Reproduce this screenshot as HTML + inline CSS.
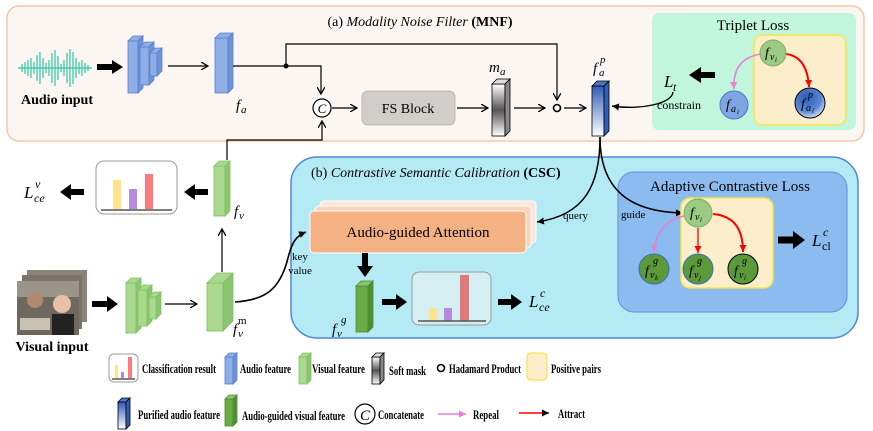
<!DOCTYPE html>
<html><head><meta charset="utf-8"><style>
html,body{margin:0;padding:0;background:#fff;}
svg{display:block;font-family:"Liberation Serif",serif;}
.it{font-style:italic;}
.b{font-weight:bold;}
</style></head><body>
<svg width="873" height="431" viewBox="0 0 873 431" xmlns="http://www.w3.org/2000/svg">
<defs>
<marker id="ah" markerWidth="8" markerHeight="8" refX="7" refY="4" orient="auto" markerUnits="userSpaceOnUse"><path d="M0,0 L7,4 L0,8" fill="none" stroke="#000" stroke-width="1.3"/></marker>
<marker id="ahf" markerWidth="8" markerHeight="8" refX="7" refY="4" orient="auto" markerUnits="userSpaceOnUse"><path d="M0,0.5 L7,4 L0,7.5 Z" fill="#000"/></marker>
<marker id="ahr" markerWidth="8" markerHeight="8" refX="7" refY="4" orient="auto" markerUnits="userSpaceOnUse"><path d="M0,0.5 L7,4 L0,7.5 Z" fill="#f00"/></marker>
<marker id="ahp" markerWidth="8" markerHeight="8" refX="7" refY="4" orient="auto" markerUnits="userSpaceOnUse"><path d="M0,0.5 L7,4 L0,7.5 Z" fill="#e67fd6"/></marker>
<linearGradient id="gm" x1="0" y1="0" x2="0" y2="1"><stop offset="0" stop-color="#fff"/><stop offset="0.5" stop-color="#555"/><stop offset="1" stop-color="#fff"/></linearGradient>
<linearGradient id="gp" x1="0" y1="0" x2="0" y2="1"><stop offset="0" stop-color="#2f5db8"/><stop offset="1" stop-color="#fff"/></linearGradient>
<radialGradient id="gc" cx="0.4" cy="0.3" r="0.8"><stop offset="0" stop-color="#2f5db8"/><stop offset="0.6" stop-color="#5a86d4"/><stop offset="1" stop-color="#fff"/></radialGradient>
</defs>

<rect x="7" y="6" width="857" height="135" rx="12" fill="#fcf6f2" stroke="#f7c6a8" stroke-width="1.5"/>
<text x="420" y="26" font-size="14" text-anchor="middle">(a) <tspan class="it">Modality Noise Filter</tspan> <tspan class="b">(MNF)</tspan></text>

<g stroke="#2fc7a6" stroke-width="1.2">
<path d="M18,68 H92"/>
<path d="M22,64 V72 M25,62 V74 M28,60 V76 M31,58 V78 M34,62 V74 M37,55 V81 M40,52 V84 M43,58 V78 M46,63 V73 M49,60 V76 M52,53 V83 M55,50 V86 M58,56 V80 M61,64 V72 M64,60 V76 M67,53 V83 M70,49 V87 M73,52 V84 M76,58 V78 M79,62 V74 M82,60 V76 M85,63 V73 M88,65 V71"/>
</g>
<text x="57" y="104" font-size="14" class="b" text-anchor="middle">Audio input</text>
<path d="M97,67 H113" stroke="#000" stroke-width="6"/><path d="M112,60 L123,67 L112,74Z"/>

<g stroke="#5b7fcf" stroke-width="0.8" fill="#8eaee6">
<rect x="128" y="41" width="10" height="52"/><polygon points="128,41 133,36 143,36 138,41"/><polygon points="138,41 143,36 143,88 138,93" fill="#6f93d8"/>
<rect x="140" y="47" width="9" height="38"/><polygon points="140,47 145,42 154,42 149,47"/><polygon points="149,47 154,42 154,80 149,85" fill="#6f93d8"/>
<rect x="150" y="53" width="7" height="23"/><polygon points="150,53 155,48 162,48 157,53"/><polygon points="157,53 162,48 162,71 157,76" fill="#6f93d8"/>
</g>
<path d="M168,66 H208" stroke="#000" stroke-width="1.2" marker-end="url(#ah)"/>
<g stroke="#5b7fcf" stroke-width="0.8" fill="#8eaee6">
<rect x="215" y="38" width="13" height="55"/><polygon points="215,38 220,33 233,33 228,38"/><polygon points="228,38 233,33 233,88 228,93" fill="#6f93d8"/>
</g>
<text x="236" y="110" font-size="15" class="it">f</text><text x="241" y="113" font-size="11" class="it">a</text>

<path d="M233,66 H321 V94" fill="none" stroke="#000" stroke-width="1.2" marker-end="url(#ah)"/>
<circle cx="286" cy="66" r="2.5"/>
<path d="M286,66 V44 H557 V100" fill="none" stroke="#000" stroke-width="1.2" marker-end="url(#ah)"/>
<path d="M227,160 V140 H322 V121" fill="none" stroke="#000" stroke-width="1.2" marker-end="url(#ah)"/>
<circle cx="322" cy="108" r="9" fill="#fff" stroke="#000" stroke-width="1.2"/>
<text x="322" y="113" font-size="13" class="it" text-anchor="middle">C</text>
<path d="M332,108 H357" stroke="#000" stroke-width="1.2" marker-end="url(#ah)"/>
<rect x="362" y="91" width="93" height="34" rx="6" fill="#d0cdca" stroke="#b9b6b3"/>
<text x="408" y="113" font-size="14" text-anchor="middle">FS Block</text>
<path d="M457,108 H488" stroke="#000" stroke-width="1.2" marker-end="url(#ah)"/>
<g stroke="#000" stroke-width="0.8">
<rect x="492" y="84" width="13" height="52" fill="url(#gm)"/><polygon points="492,84 497,79 510,79 505,84" fill="#ddd"/><polygon points="505,84 510,79 510,131 505,136" fill="#888"/>
</g>
<text x="489" y="72" font-size="15" class="it">m</text><text x="500" y="75" font-size="11" class="it">a</text>
<path d="M514,108 H545" stroke="#000" stroke-width="1.2" marker-end="url(#ah)"/>
<circle cx="557" cy="108" r="3.5" fill="none" stroke="#000" stroke-width="1.6"/>
<path d="M564,108 H586" stroke="#000" stroke-width="1.2" marker-end="url(#ah)"/>
<g stroke="#000" stroke-width="0.8">
<rect x="592" y="86" width="12" height="50" fill="url(#gp)"/><polygon points="592,86 597,81 609,81 604,86" fill="#4a74c8"/><polygon points="604,86 609,81 609,131 604,136" fill="#2f5db8"/>
</g>
<text x="593" y="73" font-size="15" class="it">f</text><text x="599" y="76" font-size="11" class="it">a</text><text x="600" y="63" font-size="11" class="it">p</text>

<rect x="652" y="13" width="204" height="117" rx="7" fill="#c1f6dd"/>
<text x="753" y="30" font-size="15" text-anchor="middle">Triplet Loss</text>
<rect x="754" y="35" width="92" height="90" rx="9" fill="#fdeecb" stroke="#f2e64a" stroke-width="1.5"/>
<path d="M715,75 H700" stroke="#000" stroke-width="6"/><path d="M701,67 L689,75 L701,83Z"/>
<text x="664" y="87" font-size="17" class="it">L</text><text x="673" y="91" font-size="12" class="it">t</text>
<text x="657" y="109" font-size="12">constrain</text>
<path d="M673,92 C672,104 640,110 612,106" fill="none" stroke="#000" stroke-width="1.4" marker-end="url(#ahf)"/>
<path d="M760,54 C740,58 733,70 734,89" fill="none" stroke="#e67fd6" stroke-width="1.6" marker-end="url(#ahp)"/>
<path d="M786,54 C802,56 808,70 809,87" fill="none" stroke="#f00" stroke-width="2" marker-end="url(#ahr)"/>
<circle cx="773" cy="53" r="13" fill="#9ccb83" stroke="#7dae66"/>
<text x="765" y="57" font-size="14" class="it">f</text><text x="770" y="60" font-size="10" class="it">v</text><text x="775" y="62" font-size="7" class="it">i</text>
<circle cx="734" cy="105" r="14" fill="#7fa6e2" stroke="#4d77c5"/>
<text x="726" y="109" font-size="14" class="it">f</text><text x="731" y="112" font-size="10" class="it">a</text><text x="737" y="114" font-size="7" class="it">i</text>
<circle cx="810" cy="103" r="15" fill="url(#gc)" stroke="#000"/>
<text x="801" y="108" font-size="14" class="it">f</text><text x="806" y="111" font-size="10" class="it">a</text><text x="812" y="113" font-size="7" class="it">i</text><text x="808" y="98" font-size="10" class="it">p</text>

<rect x="291" y="157" width="567" height="181" rx="26" fill="#b3eaf3" stroke="#4f86d6" stroke-width="1.5"/>
<text x="311" y="177" font-size="14"><tspan>(b) </tspan><tspan class="it">Contrastive Semantic Calibration</tspan> <tspan class="b">(CSC)</tspan></text>

<text x="24" y="198" font-size="17" class="it">L</text><text x="34" y="202" font-size="12" class="it">ce</text><text x="35" y="188" font-size="12" class="it">v</text>
<path d="M84,192 H70" stroke="#000" stroke-width="6"/><path d="M71,184 L60,192 L71,200Z"/>
<rect x="96" y="161" width="81" height="53" rx="8" fill="#fff" stroke="#999"/>
<rect x="113" y="180" width="8" height="29" fill="#ffe48c"/>
<rect x="129" y="189" width="8" height="20" fill="#b48be0"/>
<rect x="145" y="174" width="8" height="35" fill="#ff7a7a"/>
<path d="M101,210 H172" stroke="#555" stroke-width="1.5"/>
<path d="M208,192 H194" stroke="#000" stroke-width="6"/><path d="M195,184 L184,192 L195,200Z"/>
<g stroke="#7dc363" stroke-width="0.8" fill="#a9d88e">
<rect x="214" y="166" width="11" height="50"/><polygon points="214,166 219,161 230,161 225,166"/><polygon points="225,166 230,161 230,211 225,216" fill="#8bc56f"/>
</g>
<text x="234" y="216" font-size="15" class="it">f</text><text x="239" y="219" font-size="11" class="it">v</text>
<path d="M222,272 V229" stroke="#000" stroke-width="1.2" marker-end="url(#ah)"/>

<rect x="27" y="270" width="60" height="52" fill="#8a8478"/>
<rect x="22" y="275" width="60" height="54" fill="#7a7468"/>
<rect x="17" y="281" width="62" height="54" fill="#6e685e"/>
<rect x="17" y="281" width="62" height="16" fill="#9a948a"/>
<circle cx="35" cy="300" r="8" fill="#b08a70"/>
<circle cx="62" cy="304" r="9" fill="#e8c0a8"/>
<rect x="52" y="314" width="22" height="21" fill="#222"/>
<rect x="20" y="318" width="30" height="12" fill="#c9c2b4"/>
<text x="52" y="351" font-size="14" class="b" text-anchor="middle">Visual input</text>
<path d="M92,304 H108" stroke="#000" stroke-width="6"/><path d="M107,296 L118,304 L107,312Z"/>
<g stroke="#7dc363" stroke-width="0.8" fill="#a9d88e">
<rect x="126" y="283" width="10" height="50"/><polygon points="126,283 131,278 141,278 136,283"/><polygon points="136,283 141,278 141,328 136,333" fill="#8bc56f"/>
<rect x="138" y="290" width="9" height="36"/><polygon points="138,290 143,285 152,285 147,290"/><polygon points="147,290 152,285 152,321 147,326" fill="#8bc56f"/>
<rect x="149" y="297" width="7" height="22"/><polygon points="149,297 154,292 161,292 156,297"/><polygon points="156,297 161,292 161,314 156,319" fill="#8bc56f"/>
</g>
<path d="M165,304 H197" stroke="#000" stroke-width="1.2" marker-end="url(#ah)"/>
<g stroke="#7dc363" stroke-width="0.8" fill="#a9d88e">
<rect x="207" y="283" width="16" height="48"/><polygon points="207,283 217,273 233,273 223,283"/><polygon points="223,283 233,273 233,321 223,331" fill="#8bc56f"/>
</g>
<text x="233" y="334" font-size="15" class="it">f</text><text x="238" y="337" font-size="11" class="it">v</text><text x="238" y="324" font-size="11">m</text>
<path d="M235,302 C265,300 280,290 288,258 C292,242 296,236 306,232" fill="none" stroke="#000" stroke-width="1.6" marker-end="url(#ahf)"/>
<text x="300" y="260" font-size="11" text-anchor="middle">key</text>
<text x="300" y="274" font-size="11" text-anchor="middle">value</text>

<rect x="320" y="201" width="216" height="42" rx="4" fill="#fde6d8" stroke="#fff"/>
<rect x="315" y="206" width="216" height="42" rx="4" fill="#fbd3bb" stroke="#fff"/>
<rect x="310" y="211" width="216" height="42" rx="4" fill="#f4b184" stroke="#fff"/>
<text x="418" y="237" font-size="15" text-anchor="middle">Audio-guided Attention</text>
<path d="M365,253 V267" stroke="#000" stroke-width="6"/><path d="M357,266 L365,277 L373,266Z"/>
<g stroke="#4d8a30" stroke-width="0.8" fill="#6aab46">
<rect x="356" y="286" width="12" height="46"/><polygon points="356,286 361,281 373,281 368,286" fill="#8cc46c"/><polygon points="368,286 373,281 373,327 368,332" fill="#4f8f33"/>
</g>
<text x="332" y="334" font-size="15" class="it">f</text><text x="337" y="337" font-size="11" class="it">v</text><text x="341" y="323" font-size="11" class="it">g</text>
<path d="M382,302 H397" stroke="#000" stroke-width="6"/><path d="M396,294 L407,302 L396,310Z"/>
<rect x="412" y="272" width="79" height="53" rx="7" fill="#d5eef2" stroke="#999"/>
<rect x="429" y="308" width="8" height="13" fill="#ffe48c"/>
<rect x="444" y="308" width="8" height="13" fill="#b48be0"/>
<rect x="460" y="275" width="9" height="46" fill="#e07a7a"/>
<path d="M418,321 H486" stroke="#555" stroke-width="1.5"/>
<path d="M498,302 H512" stroke="#000" stroke-width="6"/><path d="M511,294 L522,302 L511,310Z"/>
<text x="529" y="307" font-size="17" class="it">L</text><text x="539" y="311" font-size="12" class="it">ce</text><text x="540" y="297" font-size="12" class="it">c</text>

<path d="M600,137 C600,185 585,215 537,222" fill="none" stroke="#000" stroke-width="1.5" marker-end="url(#ahf)"/>
<text x="563" y="219" font-size="11">query</text>

<rect x="618" y="172" width="229" height="140" rx="16" fill="#8cbcef" stroke="#5d8fdd" stroke-width="1"/>
<text x="730" y="191" font-size="15" text-anchor="middle">Adaptive Contrastive Loss</text>
<path d="M600,137 C600,190 630,212 683,213" fill="none" stroke="#000" stroke-width="1.5" marker-end="url(#ahf)"/>
<rect x="681" y="198" width="92" height="90" rx="9" fill="#fdeecb" stroke="#f2e64a" stroke-width="1.5"/>
<text x="621" y="218" font-size="11">guide</text>
<path d="M684,216 C665,220 655,235 654,252" fill="none" stroke="#e67fd6" stroke-width="1.5" marker-end="url(#ahp)"/>
<path d="M698,228 V253" stroke="#f00" stroke-width="1.3" marker-end="url(#ahr)"/>
<path d="M713,214 C735,216 743,230 743,252" fill="none" stroke="#f00" stroke-width="2" marker-end="url(#ahr)"/>
<circle cx="698" cy="213" r="14" fill="#9ccb83" stroke="#7dae66"/>
<text x="690" y="217" font-size="14" class="it">f</text><text x="695" y="220" font-size="10" class="it">v</text><text x="700" y="222" font-size="7" class="it">i</text>
<circle cx="654" cy="269" r="15" fill="#5b9a3a" stroke="#3c6db8"/>
<circle cx="698" cy="269" r="15" fill="#5b9a3a" stroke="#3c6db8"/>
<circle cx="743" cy="269" r="15" fill="#5b9a3a" stroke="#000"/>
<text x="645" y="275" font-size="14" class="it">f</text><text x="650" y="278" font-size="10" class="it">v</text><text x="655" y="280" font-size="7" class="it">k</text><text x="653" y="264" font-size="10" class="it">g</text>
<text x="689" y="275" font-size="14" class="it">f</text><text x="694" y="278" font-size="10" class="it">v</text><text x="699" y="280" font-size="7" class="it">j</text><text x="697" y="264" font-size="10" class="it">g</text>
<text x="734" y="275" font-size="14" class="it">f</text><text x="739" y="278" font-size="10" class="it">v</text><text x="744" y="280" font-size="7" class="it">i</text><text x="742" y="264" font-size="10" class="it">g</text>
<path d="M778,240 H794" stroke="#000" stroke-width="7"/><path d="M793,231 L805,240 L793,249Z"/>
<text x="812" y="246" font-size="17" class="it">L</text><text x="822" y="250" font-size="12">cl</text><text x="823" y="236" font-size="12" class="it">c</text>

<g font-size="13" class="b">
<rect x="109" y="354" width="29" height="28" rx="5" fill="#fff" stroke="#999"/>
<rect x="115" y="365" width="3" height="13" fill="#ffe48c"/>
<rect x="121" y="372" width="3" height="6" fill="#b48be0"/>
<rect x="128" y="357" width="4" height="21" fill="#ff7a7a"/>
<path d="M112,379 H135" stroke="#555" stroke-width="1.5"/>
<text x="142" y="373" textLength="74" lengthAdjust="spacingAndGlyphs">Classification result</text>
<g stroke="#5b7fcf" stroke-width="0.8" fill="#8eaee6"><rect x="225" y="357" width="8" height="27"/><polygon points="225,357 229,353 237,353 233,357"/><polygon points="233,357 237,353 237,380 233,384" fill="#6f93d8"/></g>
<text x="240" y="373" textLength="51" lengthAdjust="spacingAndGlyphs">Audio feature</text>
<g stroke="#7dc363" stroke-width="0.8" fill="#a9d88e"><rect x="299" y="357" width="8" height="27"/><polygon points="299,357 303,353 311,353 307,357"/><polygon points="307,357 311,353 311,380 307,384" fill="#8bc56f"/></g>
<text x="312" y="373" textLength="53" lengthAdjust="spacingAndGlyphs">Visual feature</text>
<g stroke="#000" stroke-width="0.8"><rect x="372" y="357" width="8" height="27" fill="url(#gm)"/><polygon points="372,357 376,353 384,353 380,357" fill="#ddd"/><polygon points="380,357 384,353 384,380 380,384" fill="#888"/></g>
<text x="389" y="375" textLength="37" lengthAdjust="spacingAndGlyphs">Soft mask</text>
<circle cx="441" cy="368" r="3.5" fill="none" stroke="#000" stroke-width="1.6"/>
<text x="449" y="373" textLength="72" lengthAdjust="spacingAndGlyphs">Hadamard Product</text>
<rect x="527" y="353" width="20" height="27" rx="4" fill="#fdeecb" stroke="#f2e64a" stroke-width="1.2"/>
<text x="551" y="373" textLength="50" lengthAdjust="spacingAndGlyphs">Positive pairs</text>
<g stroke="#000" stroke-width="0.8"><rect x="118" y="402" width="8" height="27" fill="url(#gp)"/><polygon points="118,402 122,398 130,398 126,402" fill="#4a74c8"/><polygon points="126,402 130,398 130,425 126,429" fill="#2f5db8"/></g>
<text x="138" y="419" textLength="82" lengthAdjust="spacingAndGlyphs">Purified audio feature</text>
<g stroke="#4d8a30" stroke-width="0.8" fill="#6aab46"><rect x="225" y="399" width="8" height="27"/><polygon points="225,399 229,395 237,395 233,399" fill="#8cc46c"/><polygon points="233,399 237,395 237,422 233,426" fill="#4f8f33"/></g>
<text x="242" y="420" textLength="103" lengthAdjust="spacingAndGlyphs">Audio-guided visual feature</text>
<circle cx="365" cy="414" r="10" fill="#fff" stroke="#000" stroke-width="1.2"/>
<text x="365" y="420" font-size="15" font-weight="normal" class="it" text-anchor="middle">C</text>
<text x="378" y="419" textLength="46" lengthAdjust="spacingAndGlyphs">Concatenate</text>
<path d="M438,414 H466" stroke="#e67fd6" stroke-width="1.6" marker-end="url(#ahp)"/>
<text x="473" y="419" textLength="26" lengthAdjust="spacingAndGlyphs">Repeal</text>
<path d="M519,413 H549" stroke="#f00" stroke-width="1.6" marker-end="url(#ahf)"/>
<text x="558" y="418" textLength="27" lengthAdjust="spacingAndGlyphs">Attract</text>
</g>
</svg>
</body></html>
